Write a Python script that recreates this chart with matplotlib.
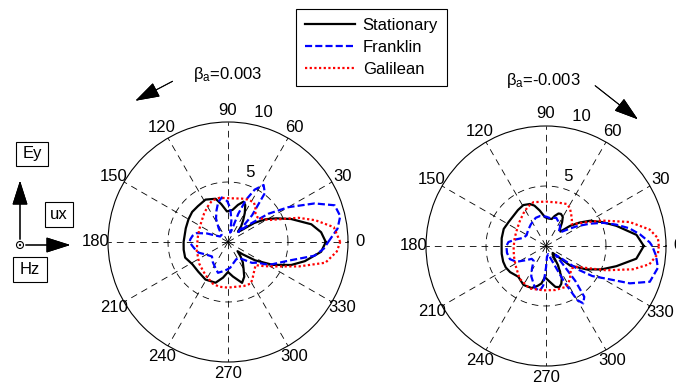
import numpy as np
import matplotlib
matplotlib.use("Agg")
import matplotlib.pyplot as plt
from matplotlib.patches import Rectangle, Ellipse

plt.rcParams['font.family'] = ['Liberation Sans', 'DejaVu Sans']
plt.rcParams['mathtext.fontset'] = 'custom'
plt.rcParams['mathtext.rm'] = 'Liberation Sans'
plt.rcParams['mathtext.it'] = 'Liberation Sans'

# ---- data: (angle in degrees, radius) ----
# left panel, beta_a = 0.003
L_st_ang = [0, 6, 12, 20, 26, 31, 36, 42, 46, 50, 55, 60, 65, 69, 75, 82, 92, 100, 106, 118, 130, 140, 150, 162,
            180, 190, 200, 212, 225, 239, 253, 262, 270, 278, 289, 295, 300, 306, 311, 316, 320, 326, 333, 340,
            346, 354, 360]
L_st_r = [8.15, 7.8, 7.1, 5.6, 4.5, 3.7, 2.7, 1.4, 1.2, 1.7, 2.2, 2.8, 3.4, 3.6, 3.2, 2.7, 2.55, 3.2, 3.75, 4.0,
          3.9, 3.9, 3.8, 3.7, 3.7, 3.75, 3.8, 3.5, 3.5, 3.65, 3.55, 3.0, 2.5, 2.9, 3.6, 3.2, 2.6, 2.1, 1.6, 1.1,
          1.6, 2.75, 4.2, 5.6, 6.6, 7.8, 8.15]

L_fr_ang = [0, 7, 13, 19, 24, 30, 35, 40, 44, 48, 53, 58, 63, 67, 70, 73, 77, 81, 86, 91, 98, 104, 110, 117, 124,
            132, 145, 153, 158, 164, 170, 176, 180, 186, 193, 200, 210, 222, 233, 244, 252, 259, 268, 275, 285,
            295, 304, 312, 319, 325, 329, 333, 343, 351, 356, 360]
L_fr_r = [8.35, 9.2, 9.6, 9.4, 7.9, 5.8, 4.1, 2.2, 1.2, 3.0, 5.1, 5.6, 4.9, 3.8, 2.5, 1.0, 0.8, 1.8, 2.8, 3.4,
          3.75, 3.4, 2.8, 2.2, 1.4, 0.8, 0.8, 1.2, 1.9, 2.7, 3.0, 3.15, 3.2, 3.0, 2.8, 2.6, 2.1, 1.8, 2.1, 2.4,
          2.7, 2.5, 2.3, 2.15, 1.8, 1.6, 1.6, 2.0, 2.65, 3.0, 3.6, 4.1, 5.3, 7.3, 8.0, 8.35]

L_ga_ang = [0, 8, 14, 19, 23, 28, 34, 40, 46, 52, 57, 65, 72, 90, 101, 111, 120, 130, 145, 158, 170, 180, 195,
            217, 230, 239, 250, 259, 270, 282, 290, 299, 305, 311, 320, 326, 331, 341, 348, 355, 360]
L_ga_r = [9.35, 8.9, 7.5, 6.2, 4.9, 3.9, 3.45, 3.2, 3.3, 3.7, 3.95, 3.9, 3.8, 3.65, 3.75, 3.7, 3.4, 3.1, 2.75,
          2.6, 2.55, 2.55, 2.7, 3.0, 3.2, 3.4, 3.7, 3.8, 3.8, 3.8, 3.9, 3.95, 3.6, 3.3, 3.0, 3.6, 4.2, 6.25, 8.3,
          9.1, 9.35]

# right panel, beta_a = -0.003
R_st_ang = [0, 7, 16, 23, 30, 35, 40, 45, 51, 56, 60, 65, 69, 74, 78, 85, 92, 100, 106, 111, 119, 128, 137, 147,
            158, 170, 180, 190, 200, 208, 216, 228, 240, 251, 258, 263, 268, 276, 283, 288, 292, 296, 302, 308,
            314, 321, 330, 337, 344, 352, 360]
R_st_r = [8.15, 7.6, 6.1, 5.1, 4.2, 3.4, 2.6, 1.7, 1.85, 2.4, 2.8, 2.95, 2.9, 2.6, 2.3, 2.3, 2.4, 3.0, 3.5, 3.75,
          3.9, 3.8, 3.7, 3.7, 3.8, 3.75, 3.7, 3.75, 3.8, 3.8, 3.7, 3.45, 3.75, 3.7, 3.4, 3.15, 2.6, 3.0, 3.5,
          3.6, 3.4, 3.0, 1.9, 0.9, 0.8, 2.6, 3.9, 5.0, 6.1, 7.6, 8.15]

R_fr_ang = [0, 2, 7, 12, 17, 22, 27, 33, 38, 43, 48, 54, 60, 70, 82, 90, 101, 110, 125, 138, 151, 160, 164, 168,
            174, 180, 190, 200, 208, 216, 222, 230, 238, 244, 249, 255, 262, 266, 270, 275, 285, 293, 297, 300,
            303, 307, 310, 313, 317, 321, 324, 327, 331.5, 336, 341, 349, 355, 360]
R_fr_r = [8.85, 8.65, 7.9, 7.1, 6.1, 5.15, 4.1, 3.0, 2.2, 1.7, 1.6, 2.0, 2.2, 2.5, 2.35, 2.45, 2.55, 2.5, 2.2,
          2.0, 1.85, 2.0, 2.25, 2.6, 3.15, 3.3, 3.3, 3.2, 2.8, 2.0, 1.6, 1.6, 2.2, 2.8, 3.1, 3.6, 3.8, 3.3, 1.8,
          0.9, 0.7, 1.5, 3.4, 5.2, 5.7, 5.3, 3.8, 2.0, 1.1, 1.6, 3.4, 4.6, 5.7, 7.65, 9.15, 9.5, 9.2, 8.85]

R_ga_ang = [0, 4, 9, 16, 24, 30, 35, 40, 46, 52, 58, 64, 75, 90, 106, 115, 125, 137, 149, 165, 182, 197, 212,
            231, 249, 267, 282, 297, 306, 313, 319, 325, 330, 338, 345, 350, 356, 360]
R_ga_r = [9.4, 9.35, 8.75, 7.25, 5.2, 4.0, 3.3, 2.8, 3.1, 3.4, 3.75, 3.9, 3.75, 3.7, 3.8, 3.6, 3.3, 3.0, 2.8,
          2.7, 2.7, 2.8, 3.0, 3.5, 3.8, 3.7, 3.75, 3.8, 3.4, 3.0, 2.85, 3.0, 3.6, 5.4, 7.5, 8.75, 9.35, 9.4]

series_names = ['Stationary', 'Franklin', 'Galilean']
beta_labels = [r'$\beta_{a}$=0.003', r'$\beta_{a}$=-0.003']
angle_ticks = list(range(0, 360, 30))
ring_ticks = [5, 10]

styles = [dict(color='k', lw=1.6, ls='-'),
          dict(color='b', lw=1.6, ls=(0, (3.2, 1.4))),
          dict(color='r', lw=1.6, ls=(0, (1, 1.1)))]

FS = 12
W, H = 676, 388
fig = plt.figure(figsize=(W / 100, H / 100), dpi=100)


def polar_axes(cx, cy, rad):
    ax = fig.add_axes([(cx - rad) / W, (H - cy - rad) / H, 2 * rad / W, 2 * rad / H], projection='polar')
    ax.set_ylim(0, 10)
    ax.grid(False)
    ax.set_xticks([])
    ax.set_yticks([])
    ax.spines['polar'].set_linewidth(0.8)
    ax.set_facecolor('none')
    for a in angle_ticks:
        t = np.deg2rad(a)
        ax.plot([t, t], [0, 10], color='k', lw=0.6, ls=(0, (8, 6)), zorder=1)
        ax.text(t, 11, str(a), ha='center', va='center', fontsize=FS, clip_on=False)
    tt = np.linspace(0, 2 * np.pi, 200)
    ax.plot(tt, np.full_like(tt, ring_ticks[0]), color='k', lw=0.6, ls=(0, (8, 6)), zorder=1)
    for rt in ring_ticks:
        ax.text(np.deg2rad(82), rt + 0.25, '  ' + str(rt), ha='left', va='bottom', fontsize=FS, clip_on=False)
    return ax


axL = polar_axes(228, 242, 120)
axR = polar_axes(546, 246, 120)

lines = []
for ang, r, st in zip([L_st_ang, L_fr_ang, L_ga_ang], [L_st_r, L_fr_r, L_ga_r], styles):
    ln, = axL.plot(np.deg2rad(ang), r, zorder=3, **st)
    lines.append(ln)
for ang, r, st in zip([R_st_ang, R_fr_ang, R_ga_ang], [R_st_r, R_fr_r, R_ga_r], styles):
    axR.plot(np.deg2rad(ang), r, zorder=3, **st)

leg = fig.legend(lines, series_names, loc='upper left', bbox_to_anchor=(296 / W, 1 - 9 / H),
                 borderaxespad=0, fontsize=FS, handlelength=3.0, handletextpad=0.45,
                 labelspacing=0.4, borderpad=0.55, fancybox=False, framealpha=1, edgecolor='k')
leg.get_frame().set_linewidth(0.8)

# beta annotations
fig.text(193 / W, 1 - 74 / H, beta_labels[0], ha='left', va='center', fontsize=FS)
fig.text(506 / W, 1 - 80 / H, beta_labels[1], ha='left', va='center', fontsize=FS)
arrow = dict(arrowstyle='-|>,head_length=1.1,head_width=0.35', color='k', lw=0.7, mutation_scale=14)
fig.add_artist(plt.annotate('', xy=(133 / W, 1 - 102 / H), xytext=(175 / W, 1 - 80 / H),
                            xycoords='figure fraction', textcoords='figure fraction', arrowprops=arrow))
fig.add_artist(plt.annotate('', xy=(640 / W, 1 - 121 / H), xytext=(593 / W, 1 - 84 / H),
                            xycoords='figure fraction', textcoords='figure fraction', arrowprops=arrow))

# field orientation sketch
for (x0, y0, x1, y1), lab in zip([(16, 142, 48, 166), (45, 202, 73, 227), (13, 257, 47, 282)], ['Ey', 'ux', 'Hz']):
    fig.add_artist(Rectangle((x0 / W, 1 - y1 / H), (x1 - x0) / W, (y1 - y0) / H, transform=fig.transFigure,
                             fill=False, ec='k', lw=0.8))
    fig.text((x0 + x1) / 2 / W, 1 - (y0 + y1) / 2 / H, lab, ha='center', va='center', fontsize=FS)
small = dict(arrowstyle='-|>,head_length=1.1,head_width=0.35', color='k', lw=0.8, mutation_scale=14)
fig.add_artist(plt.annotate('', xy=(20 / W, 1 - 178 / H), xytext=(20 / W, 1 - 242 / H),
                            xycoords='figure fraction', textcoords='figure fraction', arrowprops=small))
fig.add_artist(plt.annotate('', xy=(73 / W, 1 - 245 / H), xytext=(23 / W, 1 - 245 / H),
                            xycoords='figure fraction', textcoords='figure fraction', arrowprops=small))
fig.add_artist(Ellipse((20 / W, 1 - 245 / H), 7 / W, 7 / H, transform=fig.transFigure, fc='w', ec='k', lw=0.8))
fig.add_artist(Ellipse((20 / W, 1 - 245 / H), 1.6 / W, 1.6 / H, transform=fig.transFigure, fc='k', ec='k', lw=0.5))

fig.savefig('out.png', dpi=100)
